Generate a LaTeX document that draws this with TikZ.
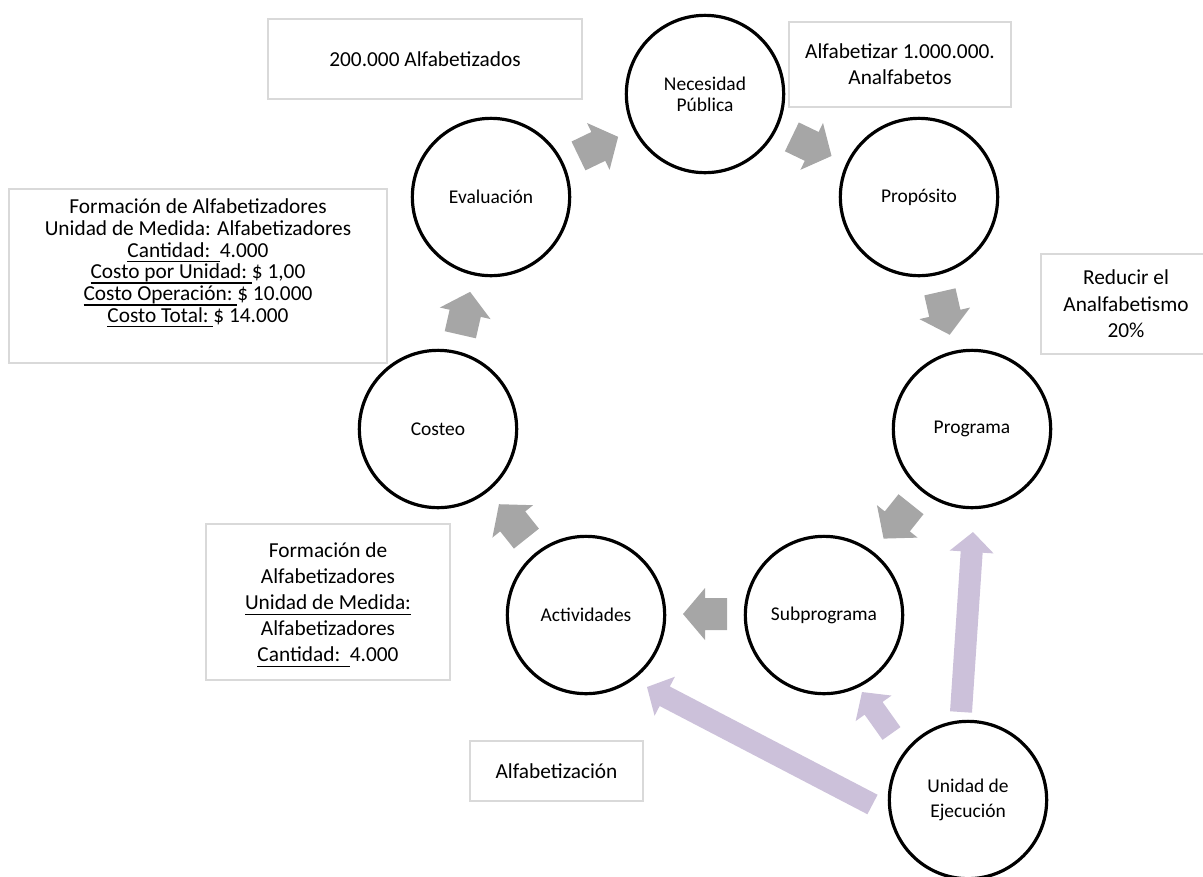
\documentclass[tikz,border=0pt]{standalone}
\usepackage{fontspec}
\setmainfont{Carlito}
\usetikzlibrary{calc}
\definecolor{agray}{HTML}{A6A6A6}
\definecolor{apurp}{HTML}{CCC1DA}
\definecolor{bgray}{HTML}{D9D9D9}
\newcommand\ulx[1]{\setbox0\hbox{#1}\rlap{\rule[-3.8pt]{\wd0}{1pt}}\box0\relax}
% block arrow from tail #1 to tip #2 (purple)
\newcommand\purparrow[2]{%
  \coordinate (#2-hb) at ($(#2)!15pt!(#1)$);
  \fill[apurp] ($(#1)!8.25pt!90:(#2)$) -- ($(#2-hb)!8.25pt!90:(#2)$) -- ($(#2-hb)!16.5pt!90:(#2)$) -- (#2)
     -- ($(#2-hb)!16.5pt!-90:(#2)$) -- ($(#2-hb)!8.25pt!-90:(#2)$) -- ($(#1)!8.25pt!-90:(#2)$) -- cycle;}
\tikzset{
  circ/.style={circle, draw=black, fill=white, line width=2.4pt, minimum size=118pt, inner sep=0pt,
    align=center, font=\fontsize{14.6}{17}\selectfont},
  infobox/.style={draw=bgray, line width=0.9pt, inner sep=0pt, align=center,
    font=\fontsize{16}{19.5}\selectfont},
  pics/cyclearrow/.style={code={\fill[agray] (-22,-16) -- (0,-16) -- (0,-26) -- (22,0) -- (0,26) -- (0,16) -- (-22,16) -- cycle;}}
}
\begin{document}
\begin{tikzpicture}[x=0.75pt,y=-0.75pt]
\useasboundingbox (0,0) rectangle (1203,876);

% info boxes
\node[infobox, minimum width=235.5pt, minimum height=60pt] (b200) at (425,59) {200.000 Alfabetizados};
\node[infobox, minimum width=166.5pt, minimum height=63.75pt] (balf) at (900,64.5) {Alfabetizar 1.000.000.\\Analfabetos};
\node[infobox, minimum width=127.5pt, minimum height=75pt, font=\fontsize{16}{19.9}\selectfont] (bred) at (1126,304) {Reducir el\\Analfabetismo\\20\%};
\node[infobox, minimum width=283.5pt, minimum height=130.5pt] (bbig) at (198,276) {};
\node[align=center, inner sep=0pt, font=\fontsize{16}{16.3}\selectfont] (bbigtxt) at (198,263) {Formación de Alfabetizadores\\Unidad de Medida: Alfabetizadores\\\ulx{Cantidad:\ \ }4.000\\\ulx{Costo por Unidad:\ }\$ 1,00\\\ulx{Costo Operación:\ }\$ 10.000\\\ulx{Costo Total:\ }\$ 14.000};
\node[infobox, minimum width=183pt, minimum height=117pt] (bform) at (328,602) {};
\node[align=center, inner sep=0pt, font=\fontsize{16}{19.5}\selectfont] (bformtxt) at (328,605) {Formación de\\Alfabetizadores\\\ulx{Unidad de Medida:}\\Alfabetizadores\\\ulx{Cantidad:\ \ }4.000};
\node[infobox, minimum width=129.75pt, minimum height=45pt] (balfz) at (556.5,771) {Alfabetización};

% cycle arrows
\pic (a0) [rotate=-25.714] at (811.7,146.4) {cyclearrow};
\pic (a1) [rotate=-77.143] at (944.8,313.3) {cyclearrow};
\pic (a2) [rotate=-128.571] at (897.3,521.4) {cyclearrow};
\pic (a3) [rotate=180] at (705,614) {cyclearrow};
\pic (a4) [rotate=128.571] at (512.7,521.4) {cyclearrow};
\pic (a5) [rotate=77.143] at (465.2,313.3) {cyclearrow};
\pic (a6) [rotate=25.714] at (598.3,146.4) {cyclearrow};

% purple arrows from Unidad de Ejecución
\coordinate (uprogtail) at (961,712);
\coordinate (uprogtip) at (973,532);
\coordinate (usubtail) at (891.5,733.5);
\coordinate (usubtip) at (862,692);
\coordinate (uacttail) at (872.5,804.5);
\coordinate (uacttip) at (647,687);
\purparrow{uprogtail}{uprogtip}
\purparrow{usubtail}{usubtip}
\purparrow{uacttail}{uacttip}

% circles
\node[circ, font=\fontsize{14.6}{15.5}\selectfont] (nec) at (705,94) {Necesidad\\Pública};
\node[circ] (prop) at (919,197) {Propósito};
\node[circ] (prog) at (972,429) {Programa};
\node[circ] (sub) at (824,615) {Subprograma};
\node[circ] (act) at (586,615) {Actividades};
\node[circ] (cost) at (438,429) {Costeo};
\node[circ] (eval) at (491,197) {Evaluación};
\node[circ, font=\fontsize{14.6}{19.3}\selectfont] (unid) at (968,800) {Unidad de\\Ejecución};
\end{tikzpicture}
\end{document}
